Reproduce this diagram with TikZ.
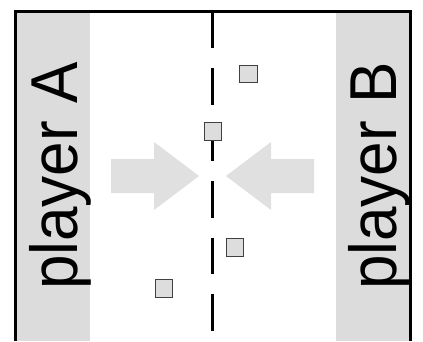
\documentclass[tikz,border=0pt]{standalone}
\usepackage{fontspec}
\setmainfont{Liberation Sans}
\begin{document}
\begin{tikzpicture}[x=1pt,y=-1pt,
  panel/.style={fill=panelgray,draw=none},
  bigarrow/.style={fill=arrowgray,draw=none},
  token/.style={draw=tokenborder,fill=tokenfill,line width=1pt,minimum size=17.5pt,inner sep=0pt},
  label/.style={rotate=90,anchor=base,inner sep=0pt,font=\fontsize{62}{62}\selectfont},
  frame/.style={draw=black,line width=3.3pt},
  divider/.style={draw=black,line width=3pt,dash pattern=on 36.5pt off 20pt}]
\definecolor{panelgray}{HTML}{DCDCDC}
\definecolor{arrowgray}{HTML}{E0E0E0}
\definecolor{tokenfill}{HTML}{DDDDDD}
\definecolor{tokenborder}{HTML}{404040}
\useasboundingbox (0,0) rectangle (423,341);
\fill[white] (0,0) rectangle (423,341);
% side panels
\path[panel] (15.3,11.7) rectangle (90,341);
\path[panel] (336,11.7) rectangle (410.5,341);
% arrows
\path[bigarrow] (111,159) -- (154,159) -- (154,142) -- (199,176) -- (154,210) -- (154,193) -- (111,193) -- cycle;
\path[bigarrow] (314,159) -- (271,159) -- (271,142) -- (226,176) -- (271,210) -- (271,193) -- (314,193) -- cycle;
% divider
\coordinate (dtop) at (212.7,11.7);
\coordinate (dbot) at (212.7,341);
\draw[divider] (dtop) -- (dbot);
% frame
\draw[frame] (15.3,341) -- (15.3,11.7) -- (410.5,11.7) -- (410.5,341);
% labels
\node[label] (pa) at (77.5,176) {\scalebox{1}[1.07]{player A}};
\node[label] (pb) at (396.8,176) {\scalebox{1}[1.07]{player B}};
% tokens
\node[token] (t1) at (248.5,74) {};
\node[token] (t2) at (213,131.5) {};
\node[token] (t3) at (235,247.5) {};
\node[token] (t4) at (164,288.5) {};
\end{tikzpicture}
\end{document}
